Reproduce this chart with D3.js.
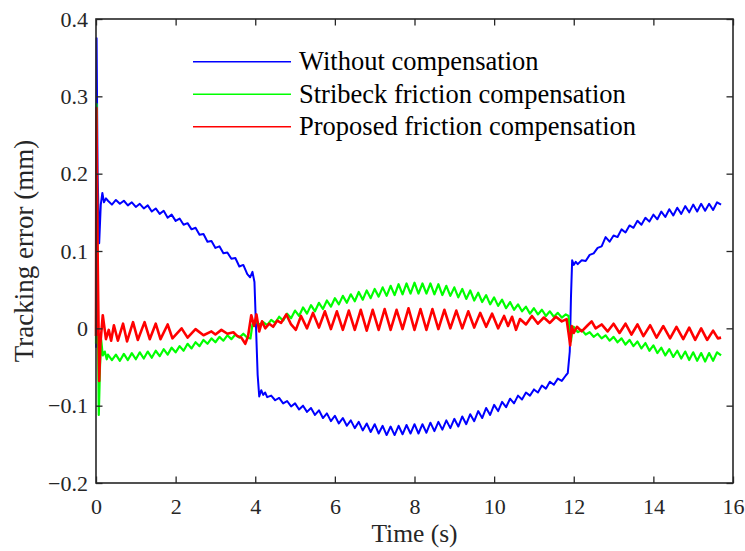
<!DOCTYPE html>
<html>
<head>
<meta charset="utf-8">
<script src="https://cdn.jsdelivr.net/npm/d3@7"></script>
<style>
  html, body { margin: 0; padding: 0; background: #fff; }
  svg { display: block; font-family: "Liberation Serif", "Times New Roman", serif; }
</style>
</head>
<body>
<div id="chart"></div>
<script>
// tick values
let xTicks = [0, 2, 4, 6, 8, 10, 12, 14, 16];
let yTicks = [-0.2, -0.1, 0, 0.1, 0.2, 0.3, 0.4];

let seriesNames = [
  "Without compensation",
  "Stribeck friction compensation",
  "Proposed friction compensation",
];
let seriesColors = ["#0000ff", "#00ff00", "#ff0000"];

// [time (s), error (mm)]
let withoutComp = [
  [0, -0.025], [0.015, 0.375], [0.04, 0.2], [0.08, 0.11], [0.12, 0.16], [0.16, 0.175], [0.2, 0.163], [0.25, 0.168],
  [0.3, 0.165], [0.4, 0.16], [0.5, 0.166], [0.6, 0.161], [0.7, 0.165], [0.8, 0.159], [0.9, 0.163], [1.0, 0.157],
  [1.1, 0.161], [1.2, 0.155], [1.3, 0.159], [1.4, 0.151], [1.5, 0.155], [1.6, 0.148], [1.7, 0.152], [1.8, 0.143],
  [1.9, 0.147], [2.0, 0.139], [2.1, 0.142], [2.2, 0.134], [2.3, 0.136], [2.4, 0.128], [2.5, 0.13], [2.6, 0.121],
  [2.7, 0.122], [2.8, 0.112], [2.9, 0.113], [3.0, 0.104], [3.1, 0.106], [3.2, 0.097], [3.3, 0.098], [3.4, 0.09],
  [3.5, 0.091], [3.6, 0.08], [3.7, 0.082], [3.8, 0.07], [3.87, 0.066], [3.93, 0.073], [3.98, 0.06], [4.02, 0.0],
  [4.06, -0.06], [4.1, -0.088], [4.15, -0.08], [4.2, -0.086], [4.25, -0.083], [4.3, -0.089], [4.4, -0.087], [4.5, -0.093],
  [4.6, -0.09], [4.7, -0.097], [4.8, -0.094], [4.9, -0.101], [5.0, -0.097], [5.1, -0.105], [5.2, -0.1], [5.3, -0.108],
  [5.4, -0.103], [5.5, -0.112], [5.6, -0.106], [5.7, -0.116], [5.8, -0.11], [5.9, -0.12], [6.0, -0.113], [6.1, -0.123],
  [6.2, -0.116], [6.3, -0.126], [6.4, -0.119], [6.5, -0.129], [6.6, -0.121], [6.7, -0.132], [6.8, -0.123], [6.9, -0.134],
  [7.0, -0.124], [7.1, -0.136], [7.2, -0.126], [7.3, -0.138], [7.4, -0.127], [7.5, -0.138], [7.6, -0.126], [7.7, -0.137],
  [7.8, -0.125], [7.9, -0.136], [8.0, -0.124], [8.1, -0.136], [8.2, -0.124], [8.3, -0.135], [8.4, -0.122], [8.5, -0.133],
  [8.6, -0.121], [8.7, -0.131], [8.8, -0.119], [8.9, -0.129], [9.0, -0.117], [9.1, -0.127], [9.2, -0.114], [9.3, -0.124],
  [9.4, -0.111], [9.5, -0.12], [9.6, -0.107], [9.7, -0.116], [9.8, -0.103], [9.9, -0.112], [10.0, -0.099], [10.1, -0.107],
  [10.2, -0.095], [10.3, -0.102], [10.4, -0.091], [10.5, -0.097], [10.6, -0.087], [10.7, -0.092], [10.8, -0.083], [10.9, -0.087],
  [11.0, -0.079], [11.1, -0.083], [11.2, -0.074], [11.3, -0.078], [11.4, -0.069], [11.5, -0.073], [11.6, -0.065], [11.7, -0.068],
  [11.8, -0.061], [11.85, -0.058], [11.9, -0.03], [11.93, 0.04], [11.96, 0.088], [12.0, 0.082], [12.05, 0.086], [12.1, 0.083],
  [12.2, 0.088], [12.3, 0.087], [12.4, 0.095], [12.5, 0.097], [12.6, 0.104], [12.7, 0.106], [12.8, 0.118], [12.9, 0.112],
  [13.0, 0.12], [13.1, 0.118], [13.2, 0.128], [13.3, 0.124], [13.4, 0.133], [13.5, 0.13], [13.6, 0.139], [13.7, 0.134],
  [13.8, 0.143], [13.9, 0.138], [14.0, 0.147], [14.1, 0.141], [14.2, 0.151], [14.3, 0.144], [14.4, 0.154], [14.5, 0.146],
  [14.6, 0.156], [14.7, 0.148], [14.8, 0.158], [14.9, 0.15], [15.0, 0.16], [15.1, 0.151], [15.2, 0.161], [15.3, 0.152],
  [15.4, 0.161], [15.5, 0.153], [15.6, 0.163], [15.7, 0.16],
];

let stribeckComp = [
  [0, -0.02], [0.015, 0.29], [0.04, 0.05], [0.07, -0.112], [0.1, -0.05], [0.13, -0.015], [0.17, -0.035], [0.22, -0.03],
  [0.27, -0.04], [0.3, -0.034], [0.4, -0.041], [0.5, -0.034], [0.6, -0.042], [0.7, -0.033], [0.8, -0.041], [0.9, -0.032],
  [1.0, -0.04], [1.1, -0.031], [1.2, -0.039], [1.3, -0.03], [1.4, -0.038], [1.5, -0.029], [1.6, -0.036], [1.7, -0.027],
  [1.8, -0.034], [1.9, -0.025], [2.0, -0.031], [2.1, -0.023], [2.2, -0.029], [2.3, -0.02], [2.4, -0.026], [2.5, -0.018],
  [2.6, -0.023], [2.7, -0.015], [2.8, -0.02], [2.9, -0.013], [3.0, -0.018], [3.1, -0.011], [3.2, -0.016], [3.3, -0.009],
  [3.4, -0.014], [3.5, -0.008], [3.6, -0.012], [3.7, -0.007], [3.8, -0.012], [3.88, -0.013], [3.93, 0.005], [4.0, 0.01],
  [4.1, 0.005], [4.2, 0.008], [4.3, 0.004], [4.4, 0.011], [4.5, 0.007], [4.6, 0.015], [4.7, 0.01], [4.8, 0.019],
  [4.9, 0.013], [5.0, 0.023], [5.1, 0.016], [5.2, 0.027], [5.3, 0.019], [5.4, 0.03], [5.5, 0.022], [5.6, 0.033],
  [5.7, 0.025], [5.8, 0.036], [5.9, 0.028], [6.0, 0.039], [6.1, 0.031], [6.2, 0.042], [6.3, 0.033], [6.4, 0.044],
  [6.5, 0.035], [6.6, 0.047], [6.7, 0.037], [6.8, 0.049], [6.9, 0.039], [7.0, 0.051], [7.1, 0.041], [7.2, 0.053],
  [7.3, 0.042], [7.4, 0.055], [7.5, 0.043], [7.6, 0.057], [7.7, 0.044], [7.8, 0.058], [7.9, 0.045], [8.0, 0.059],
  [8.1, 0.045], [8.2, 0.058], [8.3, 0.045], [8.4, 0.058], [8.5, 0.044], [8.6, 0.057], [8.7, 0.043], [8.8, 0.055],
  [8.9, 0.042], [9.0, 0.053], [9.1, 0.04], [9.2, 0.051], [9.3, 0.038], [9.4, 0.049], [9.5, 0.036], [9.6, 0.046],
  [9.7, 0.034], [9.8, 0.043], [9.9, 0.031], [10.0, 0.04], [10.1, 0.029], [10.2, 0.037], [10.3, 0.026], [10.4, 0.034],
  [10.5, 0.024], [10.6, 0.031], [10.7, 0.022], [10.8, 0.028], [10.9, 0.019], [11.0, 0.026], [11.1, 0.018], [11.2, 0.024],
  [11.3, 0.016], [11.4, 0.022], [11.5, 0.015], [11.6, 0.02], [11.7, 0.014], [11.8, 0.018], [11.87, 0.016], [11.9, -0.012],
  [11.93, -0.017], [11.97, 0.0], [12.0, 0.002], [12.1, -0.005], [12.2, -0.002], [12.3, -0.008], [12.4, -0.005], [12.5, -0.011],
  [12.6, -0.007], [12.7, -0.013], [12.8, -0.009], [12.9, -0.016], [13.0, -0.011], [13.1, -0.018], [13.2, -0.013], [13.3, -0.021],
  [13.4, -0.015], [13.5, -0.023], [13.6, -0.017], [13.7, -0.026], [13.8, -0.019], [13.9, -0.029], [14.0, -0.022], [14.1, -0.032],
  [14.2, -0.025], [14.3, -0.035], [14.4, -0.027], [14.5, -0.037], [14.6, -0.029], [14.7, -0.039], [14.8, -0.03], [14.9, -0.041],
  [15.0, -0.031], [15.1, -0.042], [15.2, -0.032], [15.3, -0.043], [15.4, -0.032], [15.5, -0.042], [15.6, -0.031], [15.7, -0.035],
];

let proposedComp = [
  [0, -0.01], [0.01, 0.285], [0.04, 0.1], [0.08, -0.068], [0.11, -0.02], [0.17, 0.017], [0.25, -0.014], [0.32, -0.002],
  [0.38, -0.016], [0.45, 0.004], [0.55, -0.016], [0.68, 0.006], [0.78, -0.017], [0.93, 0.008], [1.05, -0.015], [1.22, 0.008],
  [1.35, -0.014], [1.5, 0.006], [1.62, -0.014], [1.8, 0.005], [1.92, -0.013], [2.15, 0.0], [2.3, -0.012], [2.5, -0.001],
  [2.7, -0.009], [2.9, -0.004], [3.0, -0.008], [3.15, -0.002], [3.3, -0.007], [3.45, -0.005], [3.55, -0.01], [3.65, -0.012],
  [3.75, -0.02], [3.82, -0.01], [3.9, 0.017], [3.97, 0.003], [4.03, 0.018], [4.1, -0.004], [4.17, 0.009], [4.25, 0.0],
  [4.35, 0.006], [4.45, 0.002], [4.55, 0.01], [4.65, 0.007], [4.78, 0.018], [4.9, 0.005], [5.02, -0.002], [5.15, 0.016],
  [5.3, 0.0], [5.45, 0.02], [5.6, 0.001], [5.75, 0.022], [5.9, -0.001], [6.05, 0.022], [6.2, -0.002], [6.35, 0.023],
  [6.5, -0.002], [6.65, 0.024], [6.8, -0.003], [6.95, 0.024], [7.1, -0.002], [7.25, 0.025], [7.4, -0.002], [7.55, 0.024],
  [7.7, -0.001], [7.85, 0.026], [8.0, -0.002], [8.15, 0.025], [8.3, -0.002], [8.45, 0.025], [8.6, -0.001], [8.75, 0.024],
  [8.9, 0.0], [9.05, 0.023], [9.2, 0.0], [9.35, 0.022], [9.5, 0.001], [9.65, 0.02], [9.8, 0.002], [9.95, 0.019],
  [10.1, 0.0], [10.25, 0.016], [10.35, 0.003], [10.45, 0.015], [10.55, -0.002], [10.65, 0.012], [10.8, 0.005], [10.95, 0.016],
  [11.1, 0.006], [11.25, 0.014], [11.4, 0.007], [11.55, 0.015], [11.7, 0.009], [11.82, 0.012], [11.88, -0.01], [11.91, -0.022],
  [11.95, 0.003], [12.0, -0.006], [12.08, 0.002], [12.2, -0.004], [12.35, 0.004], [12.45, 0.009], [12.55, 0.0], [12.7, 0.005],
  [12.85, -0.004], [13.0, 0.006], [13.15, -0.006], [13.3, 0.006], [13.45, -0.008], [13.6, 0.005], [13.75, -0.01], [13.92, 0.004],
  [14.08, -0.012], [14.25, 0.003], [14.42, -0.013], [14.58, 0.002], [14.75, -0.014], [14.9, 0.001], [15.05, -0.015], [15.2, 0.0],
  [15.35, -0.015], [15.5, -0.003], [15.62, -0.013], [15.7, -0.012],
];

let allSeries = [withoutComp, stribeckComp, proposedComp];
let strokeWidths = [2.0, 2.2, 2.6];

let width = 745;
let height = 551;
let margin = { top: 19, right: 12, bottom: 68, left: 96 };
let axisColor = "#262626";
let tickLen = 6.5;

let svg = d3.select("#chart").append("svg")
  .attr("width", width)
  .attr("height", height);

let xScale = d3.scaleLinear()
  .domain([0, 16])
  .range([margin.left, width - margin.right]);
let yScale = d3.scaleLinear()
  .domain([-0.2, 0.4])
  .range([height - margin.bottom, margin.top]);

let lineGenerator = d3.line()
  .x((d) => xScale(d[0]))
  .y((d) => yScale(d[1]));

// series
let plot = svg.append("g");
allSeries.forEach((data, i) => {
  plot.append("path")
    .attr("d", lineGenerator(data))
    .attr("fill", "none")
    .attr("stroke", seriesColors[i])
    .attr("stroke-width", strokeWidths[i])
    .attr("stroke-linejoin", "round");
});

// axes, ticks pointing inward on all four sides
let fmtY = d3.format("~g");
let styleAxis = (g, fontSize) => {
  g.select(".domain").remove();
  g.selectAll("line").attr("stroke", axisColor).attr("stroke-width", 1.3);
  g.selectAll("text")
    .attr("fill", axisColor)
    .style("font-family", '"Liberation Serif", serif')
    .style("font-size", fontSize + "px");
};

svg.append("g")
  .attr("transform", `translate(0, ${yScale(-0.2)})`)
  .call(d3.axisBottom(xScale).tickValues(xTicks).tickSizeInner(-tickLen).tickSizeOuter(0).tickPadding(15))
  .call((g) => styleAxis(g, 22));

svg.append("g")
  .attr("transform", `translate(0, ${yScale(0.4)})`)
  .call(d3.axisTop(xScale).tickValues(xTicks).tickSizeInner(-tickLen).tickSizeOuter(0).tickFormat(""))
  .call((g) => styleAxis(g, 22));

svg.append("g")
  .attr("transform", `translate(${xScale(0)}, 0)`)
  .call(d3.axisLeft(yScale).tickValues(yTicks).tickSizeInner(-tickLen).tickSizeOuter(0).tickPadding(8).tickFormat(fmtY))
  .call((g) => styleAxis(g, 22));

svg.append("g")
  .attr("transform", `translate(${xScale(16)}, 0)`)
  .call(d3.axisRight(yScale).tickValues(yTicks).tickSizeInner(-tickLen).tickSizeOuter(0).tickFormat(""))
  .call((g) => styleAxis(g, 22));

// frame
svg.append("rect")
  .attr("x", xScale(0))
  .attr("y", yScale(0.4))
  .attr("width", xScale(16) - xScale(0))
  .attr("height", yScale(-0.2) - yScale(0.4))
  .attr("fill", "none")
  .attr("stroke", axisColor)
  .attr("stroke-width", 1.6);

// axis titles
svg.append("text")
  .attr("x", (xScale(0) + xScale(16)) / 2)
  .attr("y", 542)
  .attr("text-anchor", "middle")
  .attr("fill", axisColor)
  .style("font-size", "25.5px")
  .text("Time (s)");

svg.append("text")
  .attr("transform", `translate(33, ${(yScale(0.4) + yScale(-0.2)) / 2}) rotate(-90)`)
  .attr("text-anchor", "middle")
  .attr("fill", axisColor)
  .style("font-size", "27px")
  .text("Tracking error (mm)");

// legend, no box
let legendY = [61.7, 94.3, 126.7];
let legend = svg.append("g");
seriesNames.forEach((name, i) => {
  legend.append("line")
    .attr("x1", 193)
    .attr("x2", 291)
    .attr("y1", legendY[i])
    .attr("y2", legendY[i])
    .attr("stroke", seriesColors[i])
    .attr("stroke-width", 1.6);
  legend.append("text")
    .attr("x", 299)
    .attr("y", legendY[i] + 8.5)
    .attr("fill", "#000")
    .style("font-size", "26.5px")
    .text(name);
});
</script>
</body>
</html>
